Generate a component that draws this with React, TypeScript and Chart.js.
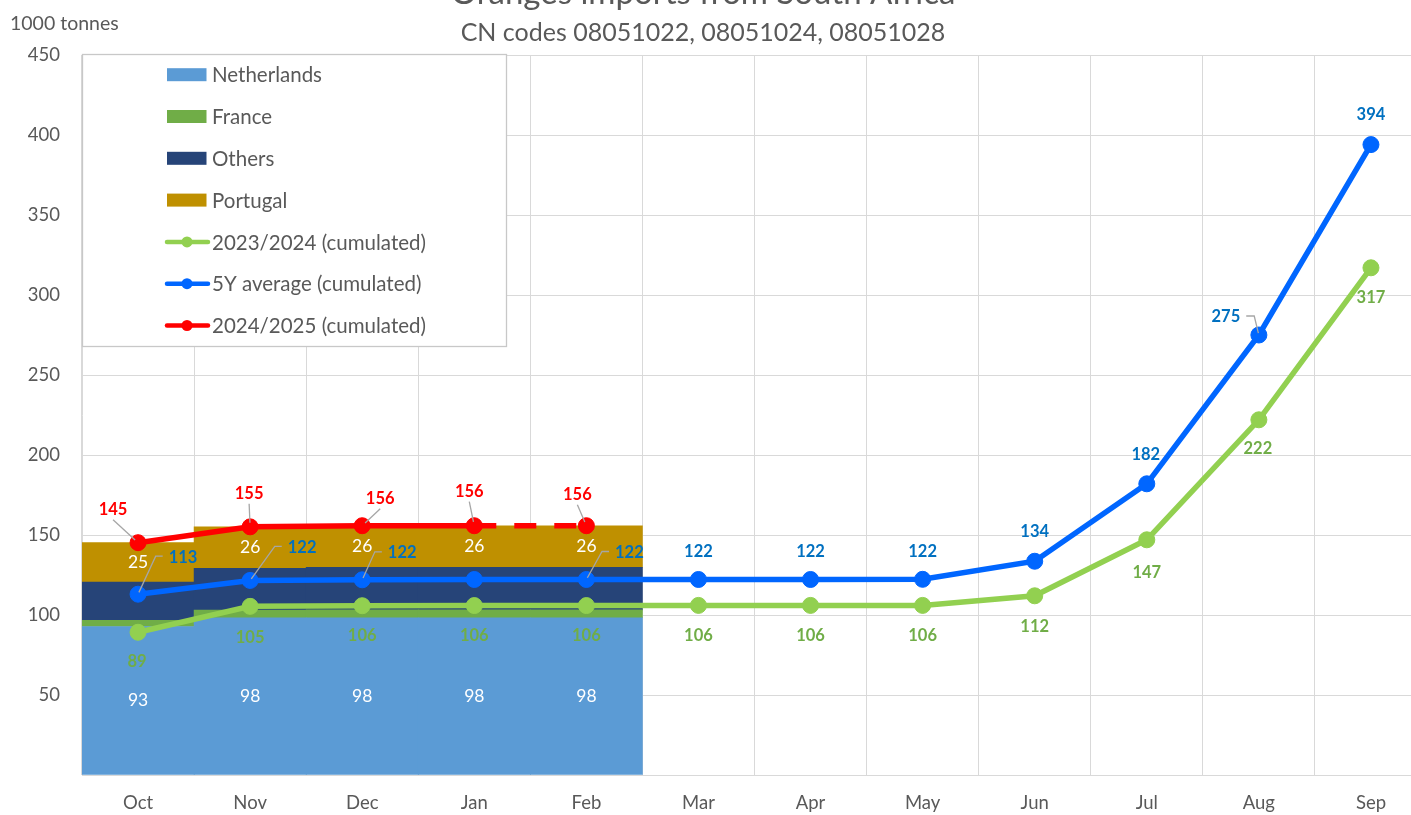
import React, { useEffect, useRef } from 'react';
import { Chart, registerables } from 'chart.js';

Chart.register(...registerables);

const FONT = 'Lato, "Noto Sans", "DejaVu Sans", sans-serif';
const TEXT = '#595959';

const chartTitle = 'Oranges imports from South Africa';
const chartSubtitle = 'CN codes 08051022, 08051024, 08051028';
const unitLabel = '1000 tonnes';

const months = ['Oct', 'Nov', 'Dec', 'Jan', 'Feb', 'Mar', 'Apr', 'May', 'Jun', 'Jul', 'Aug', 'Sep'];
const yTicks = [0, 50, 100, 150, 200, 250, 300, 350, 400, 450];

const netherlands = [92.8, 98.2, 98.3, 98.3, 98.3];
const france = [3.9, 4.8, 4.9, 4.9, 4.9];
const others = [23.9, 26.2, 26.6, 26.6, 26.6];
const portugal = [24.6, 25.9, 26.0, 26.0, 26.0];

const season2324 = [89.2, 105.4, 105.8, 105.9, 105.9, 106, 106, 106, 112, 147, 222, 317];
const avg5y = [113, 121.6, 122, 122.2, 122.2, 122.2, 122.2, 122.3, 133.6, 182, 275, 394];
const season2425 = [145.2, 155.1, 155.8, 155.8, 155.8];

// label placement (relative to the point) - layout only
const redPlace = [
  { dx: -25, dy: -33, leader: 'straight' },
  { dx: -1, dy: -33, leader: 'straight' },
  { dx: 18, dy: -27, leader: 'straight' },
  { dx: -5, dy: -34, leader: 'straight' },
  { dx: -9, dy: -31, leader: 'straight' },
];
const bluePlace = [
  { dx: 45, dy: -37, leader: 'elbow' },
  { dx: 52, dy: -33, leader: 'elbow' },
  { dx: 40, dy: -27, leader: 'elbow' },
  { hide: true },
  { dx: 43, dy: -27, leader: 'elbow' },
  { dx: 0, dy: -28 },
  { dx: 0, dy: -28 },
  { dx: 0, dy: -28 },
  { dx: 0, dy: -30 },
  { dx: -1, dy: -29 },
  { dx: -33, dy: -18, leader: 'elbow' },
  { dx: 0, dy: -30 },
];
const greenPlace = [
  { dx: -1, dy: 29 },
  { dx: 0, dy: 31 },
  { dx: 0, dy: 30 },
  { dx: 0, dy: 30 },
  { dx: 0, dy: 30 },
  { dx: 0, dy: 30 },
  { dx: 0, dy: 30 },
  { dx: 0, dy: 30 },
  { dx: 0, dy: 31 },
  { dx: 0, dy: 33 },
  { dx: -1, dy: 29 },
  { dx: 0, dy: 30 },
];

const bgPlugin = {
  id: 'bgTitles',
  beforeDraw(chart: any) {
    const ctx = chart.ctx;
    ctx.save();
    ctx.fillStyle = '#ffffff';
    ctx.fillRect(0, 0, chart.width, chart.height);
    ctx.fillStyle = TEXT;
    ctx.textAlign = 'center';
    ctx.textBaseline = 'alphabetic';
    ctx.font = `33px ${FONT}`;
    ctx.fillText(chartTitle, 703, 34);
    ctx.font = `25px ${FONT}`;
    ctx.fillText(chartSubtitle, 703, 71);
    ctx.textAlign = 'left';
    ctx.font = `19.5px ${FONT}`;
    ctx.fillText(unitLabel, 10, 60);
    ctx.restore();
  },
};

const labelPlugin = {
  id: 'valueLabels',
  afterDatasetsDraw(chart: any) {
    const ctx = chart.ctx;
    ctx.save();
    chart.data.datasets.forEach((ds: any, di: number) => {
      const cfg = ds.valueLabels;
      if (!cfg) return;
      const meta = chart.getDatasetMeta(di);
      meta.data.forEach((el: any, i: number) => {
        const v = ds.data[i];
        if (v == null) return;
        const place = cfg.place ? cfg.place[i] : { dx: 0, dy: 0 };
        if (!place || place.hide) return;
        const px = el.x;
        let py = el.y;
        if (cfg.bar) py = (el.y + el.base) / 2;
        const lx = px + (place.dx || 0);
        const ly = py + (place.dy || 0);
        const txt = String(Math.round(v));
        ctx.font = cfg.font;
        const w = ctx.measureText(txt).width;
        if (place.leader) {
          ctx.strokeStyle = '#A6A6A6';
          ctx.lineWidth = 1.3;
          ctx.beginPath();
          if (place.leader === 'straight') {
            const sx = lx, sy = ly + 10;
            const ddx = px - sx, ddy = py - sy;
            const len = Math.hypot(ddx, ddy);
            const ex = px - (ddx / len) * 4, ey = py - (ddy / len) * 4;
            ctx.moveTo(sx, sy);
            ctx.lineTo(ex, ey);
          } else {
            const right = lx > px;
            const x0 = right ? lx - w / 2 - 6 : lx + w / 2 + 6;
            const x1 = right ? x0 - 7 : x0 + 8;
            const ddx = px - x1, ddy = py - ly;
            const len = Math.hypot(ddx, ddy);
            const ex = px - (ddx / len) * 2, ey = py - (ddy / len) * 2;
            ctx.moveTo(x0, ly - 1);
            ctx.lineTo(x1, ly - 1);
            ctx.lineTo(ex, ey);
          }
          ctx.stroke();
        }
        ctx.fillStyle = cfg.color;
        ctx.textAlign = 'center';
        ctx.textBaseline = 'middle';
        ctx.fillText(txt, lx, ly);
      });
    });
    ctx.restore();
  },
};

const legendPlugin = {
  id: 'insideLegend',
  afterDraw(chart: any) {
    const ctx = chart.ctx;
    const a = chart.chartArea;
    const left = a.left;
    const top = a.top - 1;
    const w = 424;
    const h = 292;
    ctx.save();
    ctx.fillStyle = '#ffffff';
    ctx.fillRect(left, top, w, h);
    ctx.strokeStyle = '#C8C8C8';
    ctx.lineWidth = 1.3;
    ctx.strokeRect(left + 0.5, top + 0.5, w, h);
    chart.data.datasets.forEach((ds: any, i: number) => {
      const cy = top + 20.7 + i * 41.8;
      if (ds.type === 'bar') {
        ctx.fillStyle = ds.backgroundColor;
        ctx.fillRect(left + 85, cy - 6.5, 39.5, 13);
      } else {
        ctx.strokeStyle = ds.borderColor;
        ctx.lineWidth = 4.5;
        ctx.lineCap = 'round';
        ctx.beginPath();
        ctx.moveTo(left + 85, cy);
        ctx.lineTo(left + 126, cy);
        ctx.stroke();
        ctx.fillStyle = ds.borderColor;
        ctx.beginPath();
        ctx.arc(left + 105, cy, 5.5, 0, Math.PI * 2);
        ctx.fill();
      }
      ctx.fillStyle = TEXT;
      ctx.font = `20.5px ${FONT}`;
      ctx.textAlign = 'left';
      ctx.textBaseline = 'middle';
      ctx.fillText(ds.label, left + 130, cy + 1);
    });
    ctx.restore();
  },
};

const lineBase = {
  type: 'line' as const,
  borderWidth: 5.5,
  pointRadius: 8,
  pointBorderWidth: 1,
  pointHoverRadius: 8,
  tension: 0,
  fill: false,
};

export default function App() {
  const ref = useRef<HTMLCanvasElement | null>(null);

  useEffect(() => {
    if (!ref.current) return;
    const boldLabel = `bold 16.5px ${FONT}`;
    const barLabel = `17.5px ${FONT}`;
    const chart = new Chart(ref.current, {
      type: 'bar',
      data: {
        labels: months,
        datasets: [
          {
            type: 'bar',
            label: 'Netherlands',
            data: netherlands,
            backgroundColor: '#5B9BD5',
            stack: 'imports',
            order: 5,
            barPercentage: 1,
            categoryPercentage: 1,
            valueLabels: { bar: true, color: '#FFFFFF', font: barLabel },
          } as any,
          {
            type: 'bar',
            label: 'France',
            data: france,
            backgroundColor: '#70AD47',
            stack: 'imports',
            order: 5,
            barPercentage: 1,
            categoryPercentage: 1,
          } as any,
          {
            type: 'bar',
            label: 'Others',
            data: others,
            backgroundColor: '#264478',
            stack: 'imports',
            order: 5,
            barPercentage: 1,
            categoryPercentage: 1,
          } as any,
          {
            type: 'bar',
            label: 'Portugal',
            data: portugal,
            backgroundColor: '#BF9000',
            stack: 'imports',
            order: 5,
            barPercentage: 1,
            categoryPercentage: 1,
            valueLabels: { bar: true, color: '#FFFFFF', font: barLabel },
          } as any,
          {
            ...lineBase,
            label: '2023/2024 (cumulated)',
            data: season2324,
            borderColor: '#92D050',
            backgroundColor: '#92D050',
            pointBackgroundColor: '#92D050',
            pointBorderColor: '#92D050',
            stack: 's2324',
            order: 3,
            valueLabels: { color: '#70AD47', font: boldLabel, place: greenPlace },
          } as any,
          {
            ...lineBase,
            label: '5Y average (cumulated)',
            data: avg5y,
            borderColor: '#0066FF',
            backgroundColor: '#0066FF',
            pointBackgroundColor: '#0066FF',
            pointBorderColor: '#0066FF',
            stack: 'avg',
            order: 2,
            valueLabels: { color: '#0070C0', font: boldLabel, place: bluePlace },
          } as any,
          {
            ...lineBase,
            label: '2024/2025 (cumulated)',
            data: season2425,
            borderColor: '#FF0000',
            backgroundColor: '#FF0000',
            pointBackgroundColor: '#FF0000',
            pointBorderColor: '#FF0000',
            stack: 's2425',
            order: 1,
            segment: {
              borderDash: (c: any) => (c.p0DataIndex === 3 ? [22, 18] : undefined),
            },
            valueLabels: { color: '#FF0000', font: boldLabel, place: redPlace },
          } as any,
        ],
      },
      options: {
        responsive: false,
        animation: false,
        events: [],
        layout: { padding: { top: 85, right: 23, left: 0, bottom: 0 } },
        plugins: {
          legend: { display: false },
          title: { display: false },
          tooltip: { enabled: false },
        },
        scales: {
          x: {
            stacked: true,
            offset: true,
            grid: { color: '#D9D9D9', lineWidth: 1, offset: true, drawTicks: false },
            border: { color: '#D9D9D9', width: 1 },
            ticks: { color: TEXT, font: { family: FONT, size: 18.5 }, padding: 17 },
            afterFit: (s: any) => {
              s.height = 40;
            },
          },
          y: {
            stacked: true,
            min: 0,
            max: 450,
            afterBuildTicks: (s: any) => {
              s.ticks = yTicks.map((v) => ({ value: v }));
            },
            grid: { color: '#D9D9D9', lineWidth: 1, drawTicks: false },
            border: { color: '#D9D9D9', width: 1 },
            ticks: {
              color: TEXT,
              font: { family: FONT, size: 18.5 },
              padding: 22,
              callback: (v: any) => (Number(v) === 0 ? '' : String(v)),
            },
            afterFit: (s: any) => {
              s.width = 82;
            },
          },
        },
      } as any,
      plugins: [bgPlugin, labelPlugin, legendPlugin],
    });
    return () => chart.destroy();
  }, []);

  return (
    <div
      style={{
        position: 'fixed',
        left: 0,
        top: 0,
        width: 1411,
        height: 815,
        overflow: 'hidden',
        background: '#ffffff',
      }}
    >
      <canvas
        ref={ref}
        width={1450}
        height={845}
        style={{ position: 'absolute', left: 0, top: -30, width: 1450, height: 845 }}
      />
    </div>
  );
}
